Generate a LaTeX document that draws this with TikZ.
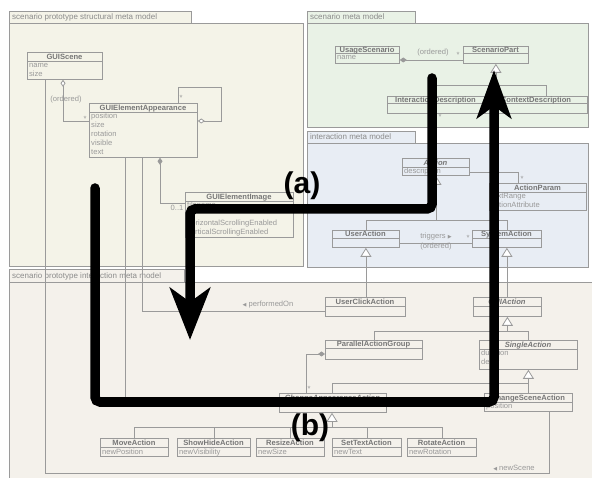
\documentclass[tikz,border=0pt]{standalone}
\usepackage{fontspec}
\setmainfont{Liberation Sans}
\newfontfamily\glyphfont{DejaVu Sans}
\usetikzlibrary{arrows.meta,calc}

\definecolor{pkgline}{HTML}{9A9A9A}
\definecolor{structfill}{HTML}{F4F3E8}
\definecolor{scenfill}{HTML}{E9F2E6}
\definecolor{interfill}{HTML}{E8EDF4}
\definecolor{protofill}{HTML}{F4F1EB}
\definecolor{namecol}{HTML}{777777}
\definecolor{attrcol}{HTML}{999999}

\newcommand{\trifont}{\glyphfont\fontsize{5}{6}\selectfont}

\tikzset{
  pkgbox/.style={draw=pkgline, line width=0.8pt},
  pkglabel/.style={anchor=base west, inner sep=0pt, font=\fontsize{8}{9}\selectfont, text=namecol!85},
  classbox/.style={draw=pkgline, line width=0.8pt, inner sep=0pt, anchor=north west},
  classrule/.style={draw=pkgline, line width=0.8pt},
  classname/.style={inner sep=0pt, font=\fontsize{7.6}{9}\selectfont\bfseries, text=namecol, text height=5.5pt, text depth=0pt},
  attr/.style={inner sep=0pt, anchor=base west, font=\fontsize{7.6}{9}\selectfont, text=attrcol},
  lbl/.style={inner sep=0pt, font=\fontsize{7.6}{9}\selectfont, text=attrcol},
  link/.style={draw=pkgline, line width=0.8pt},
  gen/.style={link, -{Triangle[length=9pt, width=11pt, fill=white]}},
  comp/.style={link, {Diamond[length=7pt, width=5pt]}-},
  aggr/.style={link, {Diamond[length=7pt, width=5pt, fill=white]}-},
  flow/.style={line width=9.5pt, line cap=round, rounded corners=5pt},
  marklabel/.style={inner sep=0pt, font=\fontsize{30}{30}\selectfont\bfseries},
}

% class box: name, x1, y1, x2, y2, y of header rule, title, attributes
\newcommand{\umlclass}[8]{%
  \node[classbox, minimum width={#4-#2}, minimum height={#5-#3}] (#1) at (#2,#3) {};
  \draw[classrule] (#2,#6) -- (#4,#6);
  \node[classname] (#1-name) at ({(#2+#4)/2},{(#3+#6)/2}) {#7};
  \foreach \a [count=\i from 0] in {#8} {\node[attr] (#1-attr\i) at ({#2+2},{#6+7+9*\i}) {\a};}%
}

\begin{document}
\begin{tikzpicture}[x=1pt, y=-1pt]
\useasboundingbox (0,0) rectangle (592,478);
\clip (0,0) rectangle (592,478);
\fill[white] (0,0) rectangle (592,478);

% packages
\path[pkgbox, fill=structfill] (9,11) rectangle (191,23);
\path[pkgbox, fill=structfill] (9,23) rectangle (303,266);
\node[pkglabel] (structlabel) at (12,20) {scenario prototype structural meta model};

\path[pkgbox, fill=scenfill] (307,11) rectangle (415,23);
\path[pkgbox, fill=scenfill] (307,23) rectangle (588,127);
\node[pkglabel] (scenlabel) at (310,20) {scenario meta model};

\path[pkgbox, fill=interfill] (307,131) rectangle (415,143);
\path[pkgbox, fill=interfill] (307,143) rectangle (588,267);
\node[pkglabel] (interlabel) at (310,140) {interaction meta model};

\path[pkgbox, fill=protofill] (9,269) rectangle (184,282);
\path[pkgbox, fill=protofill] (9,282) rectangle (600,490);
\node[pkglabel] (protolabel) at (12,279) {scenario prototype interaction meta model};

% structural classes
\umlclass{GUIScene}{27}{52}{102}{79}{61}{GUIScene}{name,size}
\umlclass{GEA}{89}{103}{197}{157}{112}{GUIElementAppearance}{position,size,rotation,visible,text}
\umlclass{GEI}{185}{192}{293}{237}{201}{GUIElementImage}{filename,,horizontalScrollingEnabled,verticalScrollingEnabled}

% scenario classes
\umlclass{US}{335}{46}{399}{63}{53}{UsageScenario}{name}
\umlclass{SP}{463}{46}{528}{63}{53}{ScenarioPart}{}
\umlclass{ID}{387}{96}{484}{113}{103}{InteractionDescription}{}
\umlclass{CD}{485}{96}{587}{113}{103}{ContextDescription}{text}

% interaction classes
\umlclass{Action}{402}{158}{469}{175}{167}{\itshape Action}{description}
\umlclass{AP}{489}{183}{586}{210}{192}{ActionParam}{textRange,actionAttribute}
\umlclass{UA}{332}{230}{399}{247}{238}{UserAction}{}
\umlclass{SA}{472}{230}{541}{247}{238}{SystemAction}{}

% prototype interaction classes
\umlclass{UCA}{325}{297}{405}{316}{306}{UserClickAction}{}
\umlclass{GA}{473}{297}{541}{316}{306}{\itshape GUIAction}{}
\umlclass{PAG}{325}{340}{422}{359}{348}{ParallelActionGroup}{}
\umlclass{SiA}{479}{340}{577}{369}{349}{\itshape SingleAction}{duration,delay}
\umlclass{CAA}{279}{393}{386}{412}{402}{\itshape ChangeAppearanceAction}{}
\umlclass{CSA}{484}{393}{572}{411}{402}{ChangeSceneAction}{position}
\umlclass{MA}{100}{438}{168}{456}{447}{MoveAction}{newPosition}
\umlclass{SHA}{177}{438}{250}{456}{447}{ShowHideAction}{newVisibility}
\umlclass{RA}{256}{438}{324}{456}{447}{ResizeAction}{newSize}
\umlclass{STA}{332}{438}{401}{456}{447}{SetTextAction}{newText}
\umlclass{RoA}{407}{438}{476}{456}{447}{RotateAction}{newRotation}

% structural links
\draw[aggr] ([xshift=36pt]GUIScene.south west) |- ([yshift=-18pt]GEA.north west);
\draw[aggr] ([yshift=-18pt]GEA.north east) -| (221,87) -| ([xshift=89pt]GEA.north west);
\draw[comp] ([xshift=71pt]GEA.south west) |- ([yshift=-11pt]GEI.north west);
\draw[link] ([xshift=53pt]GEA.south west) |- ([yshift=-14pt]UCA.north west);
\draw[link] ([xshift=36pt]GEA.south west) |- (CAA.west);
\draw[link] ([xshift=18pt]GUIScene.south west) -- ++(0,394) -| ([xshift=65pt]CSA.south west);
\node[lbl] (ordA) at (66,100) {(ordered)};
\node[lbl] (starA) at (85,119) {*};
\node[lbl] (starB) at (181,98) {*};
\node[lbl] (multA) at (177,208) {0..1};
\node[lbl] (perfOn) at (268,305) {{\trifont ◀} performedOn};
\node[lbl] (newSc) at (514,468) {{\trifont ◀} newScene};

% scenario links
\draw[comp] ([yshift=-14pt]US.north east) -- ([yshift=-14pt]SP.north west);
\node[lbl] (ordB) at (433,53) {(ordered)};
\node[lbl] (starC) at (458,55) {*};
\coordinate (idbar) at ([yshift=11pt]ID.north);
\draw[link] (ID.north) -- (idbar) -| ([xshift=61pt]CD.north west);
\draw[gen] (idbar -| SP.south) -- (SP.south);
\draw[link] (ID.south) -- (Action.north);
\node[lbl] (starD) at (440,117) {*};

% interaction links
\draw[link] ([yshift=-14pt]Action.north east) -| ([xshift=29pt]AP.north west);
\node[lbl] (starE) at (522,179) {*};
\coordinate (uabar) at ([yshift=10pt]UA.north);
\draw[link] (UA.north) -- (uabar) -| (SA.north);
\draw[gen] (uabar -| Action.south) -- (Action.south);
\draw[link] ([yshift=-13pt]UA.north east) -- ([yshift=-13pt]SA.north west);
\node[lbl] (trig) at (436,237) {triggers {\trifont ▶}};
\node[lbl] (ordC) at (436,247) {(ordered)};
\node[lbl] (starF) at (468,238) {*};

% prototype interaction links
\draw[gen] (UCA.north -| UA.south) -- (UA.south);
\draw[gen] (GA.north -| SA.south) -- (SA.south);
\coordinate (pagbar) at ([yshift=9pt]PAG.north);
\draw[link] (PAG.north) -- (pagbar) -| (SiA.north);
\draw[gen] (pagbar -| GA.south) -- (GA.south);
\draw[comp] ([yshift=-14pt]PAG.north west) -| ([xshift=27pt]CAA.north west);
\node[lbl] (starG) at (309,389) {*};
\coordinate (caatop) at ([xshift=53pt]CAA.north west);
\draw[link] (caatop) -- ++(0,-10) -| (CSA.north);
\draw[gen] (CSA.north) -- (SiA.south);
\coordinate (caagen) at ([xshift=53pt]CAA.south west);
\coordinate (subbar) at ([yshift=11pt]MA.north);
\draw[link] (MA.north) -- (subbar) -| (RoA.north);
\foreach \c in {SHA,RA,STA} \draw[link] (\c.north) -- (subbar -| \c.north);
\draw[gen] (subbar -| caagen) -- (caagen);

% highlighted flows
\coordinate (aStart) at (432,78);
\coordinate (aEnd) at (190,340);
\draw[flow, -{Stealth[length=52pt, width=40pt, inset=14pt]}] (aStart) -- (432,209) -- (190,209) -- (aEnd);
\coordinate (bStart) at (95,188);
\coordinate (bEnd) at (494,70);
\draw[flow, -{Stealth[length=48pt, width=34pt, inset=12pt]}] (bStart) -- (95,402) -- (494,402) -- (bEnd);
\node[marklabel] (labA) at (302,186) {(a)};
\node[marklabel] (labB) at (310,428) {(b)};
\end{tikzpicture}
\end{document}
